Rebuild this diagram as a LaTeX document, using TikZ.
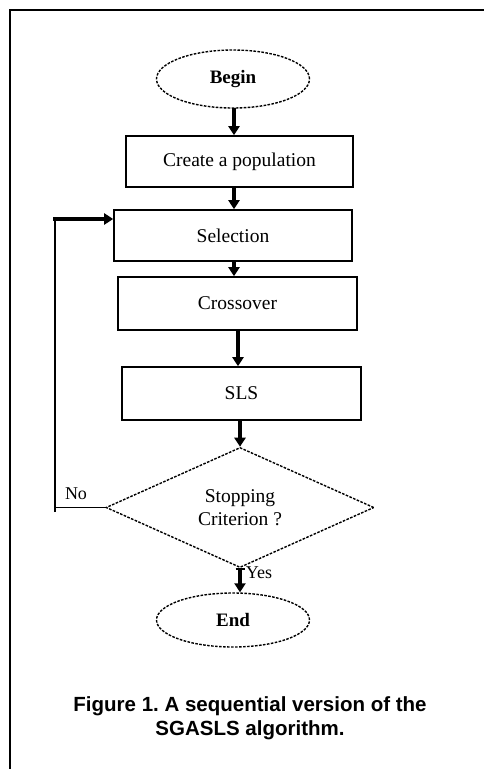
\documentclass[tikz,border=0pt]{standalone}
\usepackage{fontspec}
\setmainfont{Liberation Serif}
\newfontfamily\capfont{Liberation Sans}
\usetikzlibrary{shapes.geometric,arrows.meta}
\tikzset{
  procbox/.style={draw, line width=1.6pt, inner sep=0pt, font=\fontsize{19.5}{23}\selectfont},
  termnode/.style={draw, ellipse, line width=1.4pt, dash pattern=on 2.6pt off 1.4pt, inner sep=0pt, font=\bfseries\fontsize{19}{23}\selectfont},
  decnode/.style={draw, diamond, line width=1.4pt, dash pattern=on 2.6pt off 1.4pt, inner sep=0pt, align=center, font=\fontsize{19.5}{23}\selectfont},
  flowarr/.style={line width=3.2pt, -{Triangle[length=9pt,width=11pt]}},
  thinline/.style={line width=1.6pt},
  lbl/.style={font=\fontsize{18}{20}\selectfont, inner sep=0pt}
}
\begin{document}
\begin{tikzpicture}[x=1pt,y=-1pt]
\useasboundingbox (0,0) rectangle (484,769);
% frame
\coordinate (frA) at (9.5,769);
\coordinate (frB) at (9.5,9.5);
\coordinate (frC) at (484,9.5);
\draw[line width=2pt] (frA) -- (frB) -- (frC);
% nodes
\node[termnode, minimum width=153pt, minimum height=58pt] (begin) at (233,79) {Begin};
\node[procbox, minimum width=227pt, minimum height=51pt] (create) at (239.5,161.5) {Create a population};
\node[procbox, minimum width=238pt, minimum height=51pt] (sel) at (233,235.5) {Selection};
\node[procbox, minimum width=239pt, minimum height=53pt] (cross) at (237.5,303.5) {Crossover};
\node[procbox, minimum width=239pt, minimum height=53pt] (sls) at (241.5,393.5) {SLS};
\node[decnode, minimum width=268pt, minimum height=115pt] (dec) at (240,507.5) {Stopping\\Criterion ?};
\node[termnode, minimum width=153pt, minimum height=54pt] (end) at (233,620) {End};
% arrows
\draw[flowarr] (234,108) coordinate (a1) -- (a1 |- create.north);
\draw[flowarr] (234,187) coordinate (a2) -- (a2 |- sel.north);
\draw[flowarr] (234,261) coordinate (a3) -- (a3 |- cross.north);
\draw[flowarr] (238,330) coordinate (a4) -- (a4 |- sls.north);
\draw[flowarr] (240,420) coordinate (a5) -- (dec.north);
\draw[line width=3.2pt, {Bar[width=9pt,line width=1.4pt]}-{Triangle[length=9pt,width=11pt]}] (dec.south) -- (dec.south |- end.north);
% feedback loop
\coordinate (fb1) at (55,507.5);
\coordinate (fb2) at (55,219);
\draw[thinline] (dec.west) -- (fb1);
\draw[thinline] (55,512) -- (fb2);
\draw[flowarr] (53,219) -- (sel.west |- fb2);
% labels
\node[lbl] (no) at (76,494) {No};
\node[lbl] (yes) at (259,573) {Yes};
% caption
\node[font=\capfont\bfseries\fontsize{20.5}{24}\selectfont, align=center, inner sep=0pt] (cap) at (250,718) {Figure 1.\ A sequential version of the\\SGASLS algorithm.};
\end{tikzpicture}
\end{document}
